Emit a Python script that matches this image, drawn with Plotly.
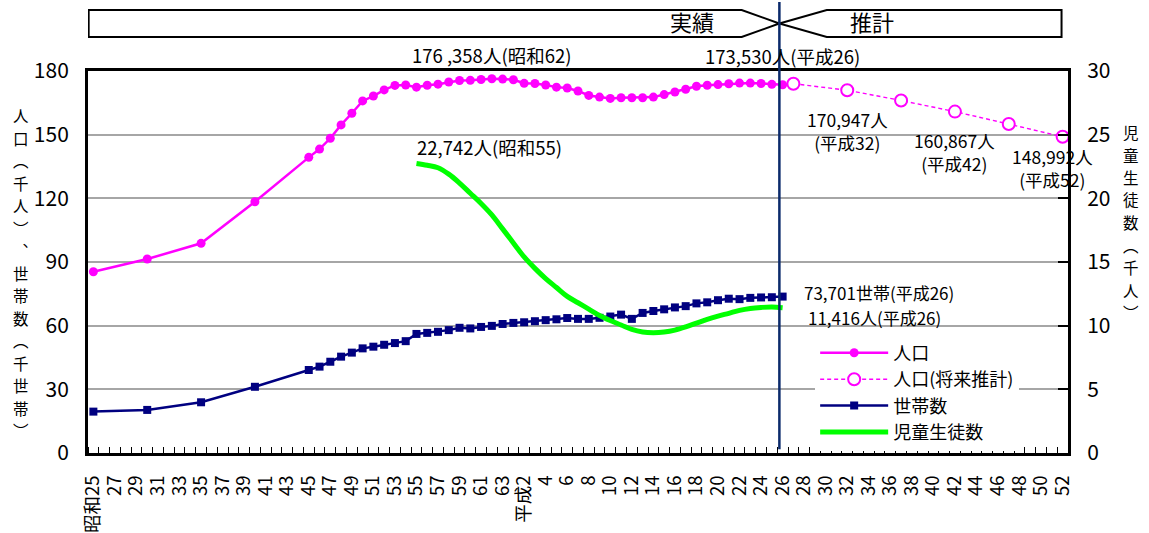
import plotly.graph_objects as go

FONT = "Noto Sans CJK JP"

# ---- data (thousands) ----
pop_years = [1950, 1955, 1960, 1965, 1970, 1971, 1972, 1973, 1974, 1975,
             1976, 1977, 1978, 1979, 1980, 1981, 1982, 1983, 1984, 1985,
             1986, 1987, 1988, 1989, 1990, 1991, 1992, 1993, 1994, 1995,
             1996, 1997, 1998, 1999, 2000, 2001, 2002, 2003, 2004, 2005,
             2006, 2007, 2008, 2009, 2010, 2011, 2012, 2013, 2014]
population = [85.4, 91.4, 98.8, 118.4, 139.3, 143.2, 148.3, 154.6, 160.1, 165.9,
              168.2, 171.1, 173.2, 173.4, 172.4, 173.3, 173.8, 174.8, 175.5, 175.6,
              176.0, 176.358, 176.2, 175.9, 174.2, 174.1, 173.4, 172.4, 172.0, 170.6,
              168.5, 167.7, 167.1, 167.4, 167.4, 167.4, 167.7, 168.9, 170.1, 171.4,
              172.8, 173.3, 173.6, 174.0, 174.3, 174.3, 174.1, 173.7, 173.53]
households = [19.5, 20.3, 23.9, 31.2, 39.1, 40.7, 43.0, 45.4, 47.3, 49.3,
              50.1, 51.0, 51.8, 52.7, 56.1, 56.6, 57.1, 57.9, 59.0, 58.7,
              59.4, 59.9, 60.8, 61.3, 61.6, 62.1, 62.6, 63.0, 63.6, 63.2,
              63.2, 63.7, 64.3, 65.2, 63.2, 66.0, 66.9, 67.7, 68.6, 69.2,
              70.5, 71.0, 72.0, 72.7, 72.5, 73.1, 73.3, 73.4, 73.701]

proj_years = [2015, 2020, 2025, 2030, 2035, 2040]
proj_population = [174.0, 170.947, 166.1, 160.867, 155.0, 148.992]

pupil_years = [1980, 1981, 1982, 1983, 1984, 1985, 1986, 1987, 1988, 1989,
               1990, 1991, 1992, 1993, 1994, 1995, 1996, 1997, 1998, 1999,
               2000, 2001, 2002, 2003, 2004, 2005, 2006, 2007, 2008, 2009,
               2010, 2011, 2012, 2013, 2014]
pupils = [22.742, 22.6, 22.4, 21.9, 21.2, 20.4, 19.6, 18.7, 17.6, 16.5,
          15.4, 14.5, 13.7, 13.0, 12.3, 11.8, 11.3, 10.8, 10.4, 10.05,
          9.7, 9.5, 9.45, 9.5, 9.65, 9.9, 10.2, 10.5, 10.75, 10.97,
          11.2, 11.35, 11.43, 11.47, 11.416]

tick_years = list(range(1950, 2041, 2))
tick_text = ["昭和25", "27", "29", "31", "33", "35", "37", "39", "41", "43",
             "45", "47", "49", "51", "53", "55", "57", "59", "61", "63",
             "平成2", "4", "6", "8", "10", "12", "14", "16", "18", "20",
             "22", "24", "26", "28", "30", "32", "34", "36", "38", "40",
             "42", "44", "46", "48", "50", "52"]

DIVIDER = 2013.7  # boundary between actual and projected periods

MAGENTA = "#FF00FF"
NAVY = "#000080"
LIME = "#00FF00"

fig = go.Figure()

fig.add_trace(go.Scatter(
    x=pop_years, y=population, name="人口", mode="lines+markers",
    line=dict(color=MAGENTA, width=2.5),
    marker=dict(symbol="circle", size=9, color=MAGENTA),
))
fig.add_trace(go.Scatter(
    x=proj_years, y=proj_population, name="人口(将来推計)", mode="lines+markers",
    line=dict(color=MAGENTA, width=1.4, dash="4px,3px"),
    marker=dict(symbol="circle", size=12, color="white",
                line=dict(color=MAGENTA, width=2)),
))
fig.add_trace(go.Scatter(
    x=pop_years, y=households, name="世帯数", mode="lines+markers",
    line=dict(color=NAVY, width=2.5),
    marker=dict(symbol="square", size=8, color=NAVY),
))
fig.add_trace(go.Scatter(
    x=pupil_years, y=pupils, name="児童生徒数", mode="lines", yaxis="y2",
    line=dict(color=LIME, width=5, shape="spline", smoothing=1.0),
))

# ---- value labels ----
ann = []
def label(text, x, y, yref="y", xanchor="center", xshift=0, yshift=0, size=18.5):
    ann.append(dict(text=text, x=x, y=y, xref="x", yref=yref, showarrow=False,
                    xanchor=xanchor, yanchor="middle", xshift=xshift, yshift=yshift,
                    borderpad=0,
                    font=dict(family=FONT, size=size, color="black")))

label("176 ,358人(昭和62)", 1987, population[pop_years.index(1987)], yshift=24)
label("173,530人(平成26)", 2014, population[-1], yshift=29)
label("22,742人(昭和55)", 1980, pupils[0], yref="y2", xanchor="left", yshift=16)
label("170,947人<br>(平成32)", 2020, proj_population[1], yshift=-41, size=17.5)
label("160,867人<br>(平成42)", 2030, proj_population[3], yshift=-40, size=17.5)
label("148,992人<br>(平成52)", 2040, proj_population[5], xshift=-10, yshift=-31, size=17.5)
label("73,701世帯(平成26)", 2014, households[-1], xanchor="left", xshift=20,
      yshift=4, size=17)
label("11,416人(平成26)", 2014, pupils[-1], yref="y2", xanchor="left", xshift=24,
      yshift=-10, size=17)

# ---- period banner ----
def py(px):
    # pixel row of the page -> plot-area paper units
    return (453 - px) / 382

for text, xc in (("実績", 2005.6), ("推計", 2022.3)):
    ann.append(dict(text=text, x=xc, y=py(21), xref="x", yref="paper", showarrow=False,
                    xanchor="center", yanchor="middle",
                    font=dict(family=FONT, size=22, color="black")))

shapes = [
    dict(type="path", xref="x", yref="paper", layer="above",
         path=f"M 1949.56,{py(37)} L 2010.2,{py(37)} L {DIVIDER},{py(23.5)} "
              f"L 2010.2,{py(10)} L 1949.56,{py(10)} Z",
         line=dict(color="black", width=2), fillcolor="white"),
    dict(type="path", xref="x", yref="paper", layer="above",
         path=f"M {DIVIDER},{py(23.5)} L 2018.1,{py(10)} L 2039.9,{py(10)} "
              f"L 2039.9,{py(37)} L 2018.1,{py(37)} Z",
         line=dict(color="black", width=2), fillcolor="rgba(0,0,0,0)"),
    dict(type="line", xref="x", yref="paper", layer="above",
         x0=DIVIDER, x1=DIVIDER, y0=0.01, y1=py(2),
         line=dict(color="#0B2A6B", width=2.5)),
]

# ---- vertical axis titles: one upright character per row ----
def vertical_title(chars, x_px, y_first, step, size):
    for i, ch in enumerate(chars):
        ann.append(dict(text=ch, x=(x_px - 88) / 980, y=py(y_first + i * step),
                        xref="paper", yref="paper", showarrow=False,
                        xanchor="center", yanchor="middle", borderpad=0,
                        font=dict(family=FONT, size=size, color="black")))

vertical_title("人口︵千人︶︑世帯数︵千世帯︶", 21, 115, 22.5, 15.5)
vertical_title("児童生徒数︵千人︶", 1131, 132, 22.5, 15.5)

fig.update_layout(
    width=1149, height=533,
    margin=dict(l=88, r=81, t=71, b=80, autoexpand=False),
    paper_bgcolor="white", plot_bgcolor="white",
    font=dict(family=FONT, color="black"),
    annotations=ann, shapes=shapes,
    legend=dict(x=0.742, y=0.31, xanchor="left", yanchor="top",
                bgcolor="white", font=dict(family=FONT, size=18),
                itemwidth=68, tracegroupgap=0, traceorder="normal"),
    xaxis=dict(
        range=[1949.5, 2040.5], tickmode="array", tickvals=tick_years, ticktext=tick_text,
        tickangle=-90, tickfont=dict(family=FONT, size=18.5), ticks="", showgrid=False,
        zeroline=False, showline=True, linecolor="black", linewidth=3, mirror=True,
        ticklabelstandoff=12, automargin=False,
        minor=dict(tickmode="linear", tick0=1949.5, dtick=1, ticks="inside",
                   ticklen=6, tickcolor="black", tickwidth=1, showgrid=False),
    ),
    yaxis=dict(
        range=[0, 180], dtick=30, tickfont=dict(family=FONT, size=21),
        showgrid=True, gridcolor="#A6A6A6", gridwidth=1.5, zeroline=False,
        showline=True, linecolor="black", linewidth=3, ticks="",
        ticklabelstandoff=12, automargin=False,
    ),
    yaxis2=dict(
        range=[0, 30], dtick=5, overlaying="y", side="right",
        tickfont=dict(family=FONT, size=21), showgrid=False, zeroline=False,
        showline=True, linecolor="black", linewidth=3,
        ticks="inside", ticklen=10, tickcolor="black", tickwidth=1.5,
        ticklabelstandoff=12, automargin=False,
    ),
)

fig.write_html("out.html")
